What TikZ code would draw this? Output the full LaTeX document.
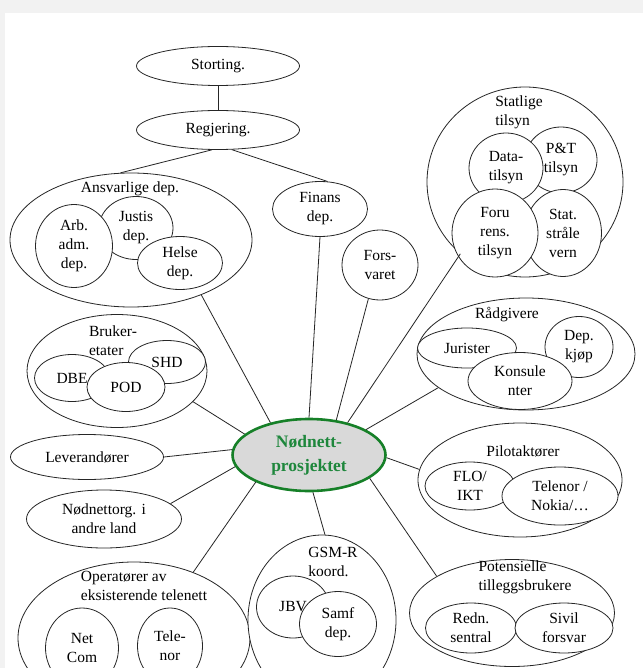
\documentclass[tikz,border=0pt]{standalone}
\usepackage{fontspec}
\setmainfont{Liberation Serif}
\usetikzlibrary{shapes.geometric}
\definecolor{hubgreen}{RGB}{22,128,40}
\definecolor{hubtext}{RGB}{30,135,60}

\begin{document}
\begin{tikzpicture}[x = 1pt, y = -1pt,
  font = \fontsize{15.5}{19}\selectfont,
  dims/.style 2 args = {minimum width = #1pt, minimum height = #2pt},
  bubble/.style = {ellipse, draw = black!85, line width = 0.8pt, fill = white, inner sep = 0pt, align = center},
  group/.style = {bubble},
  title/.style = {align = center, inner sep = 0pt},
  hub/.style = {ellipse, draw = hubgreen, line width = 2.6pt, fill = black!15, inner sep = 0pt, align = center,
    text = hubtext, font = \fontsize{17.5}{24}\selectfont\bfseries},
  link/.style = {draw = black!85, line width = 0.8pt}]
\useasboundingbox (0,0) rectangle (643,668);
\clip (0,0) rectangle (643,668);
\fill [black!5] (0,0) rectangle (643,668);
\fill [white] (5,13) rectangle (643,668);

\node [bubble, dims = {163}{39}] (storting) at (218,66) {Storting.};
\node [bubble, dims = {163}{39}] (regjering) at (218,130) {Regjering.};

\node [group, dims = {242}{134}] (ansvarlige) at (131,240) {};
\node [title] (ansvarligeT) at (130,189) {Ansvarlige dep.};
\node [bubble, dims = {74}{63}] (justis) at (136,228) {Justis\\dep.};
\node [bubble, dims = {77}{83}] (arbeid) at (74,246) {Arb.\\adm.\\dep.};
\node [bubble, dims = {85}{53}] (helse) at (180,263) {Helse\\dep.};

\node [bubble, dims = {95}{55}] (finans) at (320,209) {Finans\\dep.};
\node [bubble, dims = {76}{70}] (forsvaret) at (380,265) {Fors-\\varet};

\node [group, dims = {196}{190}] (statlige) at (525,182) {};
\node [title, align = left] (statligeT) at (519,112) {Statlige\\tilsyn};
\node [bubble, dims = {72}{66}] (pt) at (561,160) {P\&T\\tilsyn};
\node [bubble, dims = {74}{70}] (data) at (506,168) {Data-\\tilsyn};
\node [bubble, dims = {77}{87}] (straale) at (563,233) {Stat.\\stråle\\vern};
\node [bubble, dims = {86}{88}] (forurens) at (495,233) {Foru\\rens.\\tilsyn};

\node [group, dims = {218}{112}] (raadgivere) at (526,354) {};
\node [title] (raadgivereT) at (507,315) {Rådgivere};
\node [bubble, dims = {99}{40}] (jurister) at (467,348) {Jurister};
\node [bubble, dims = {68}{61}] (depkjop) at (579,347) {Dep.\\kjøp};
\node [bubble, dims = {104}{57}] (konsulenter) at (520,381) {Konsule\\nter};

\node [group, dims = {180}{113}] (bruker) at (117,371) {};
\node [title, align = left] (brukerT) at (113,341) {Bruker-\\etater};
\node [bubble, dims = {75}{47}] (dbe) at (72,378) {DBE};
\node [bubble, dims = {77}{43}] (shd) at (167,362) {SHD};
\node [bubble, dims = {78}{49}] (pod) at (126,387) {POD};

\node [bubble, dims = {153}{45}] (leverandorer) at (87,457) {Leverandører};
\node [bubble, dims = {155}{58}] (nodorg) at (104,519) {Nødnettorg. i\\andre land};

\node [group, dims = {232}{152}] (operatorer) at (134,638) {};
\node [title, align = left] (operatorerT) at (144,586) {Operatører av\\eksisterende telenett};
\node [bubble, dims = {73}{80}] (netcom) at (82,648) {Net\\Com};
\node [bubble, dims = {65}{76}] (telenor) at (170,646) {Tele-\\nor};

\node [group, dims = {148}{170}] (gsmr) at (322,620) {};
\node [title, align = left] (gsmrT) at (333,562) {GSM-R\\koord.};
\node [bubble, dims = {73}{62}] (jbv) at (293,607) {JBV};
\node [bubble, dims = {77}{65}] (samf) at (338,624) {Samf\\dep.};

\node [group, dims = {205}{107}] (potensielle) at (512,613) {};
\node [title, align = left] (potensielleT) at (525,577) {Potensielle\\tilleggsbrukere};
\node [bubble, dims = {91}{50}] (redning) at (471,628) {Redn.\\sentral};
\node [bubble, dims = {98}{50}] (sivil) at (564,628) {Sivil\\forsvar};

\node [group, dims = {204}{114}] (pilot) at (520,480) {};
\node [title] (pilotT) at (523,451) {Pilotaktører};
\node [bubble, dims = {90}{48}] (flo) at (470,486) {FLO/\\IKT};
\node [bubble, dims = {116}{58}] (nokia) at (560,496) {Telenor /\\Nokia/\ldots};

\node [hub, dims = {153}{72}] (nodnett) at (309,455) {Nødnett-\\prosjektet};

\draw [link] (storting) -- (regjering);
\draw [link] (regjering.-107) -- (ansvarlige.99);
\draw [link] (regjering.-55) -- (finans.75);
\draw [link] (ansvarlige.-38) -- (nodnett.140);
\draw [link] (finans.south) -- (nodnett.north);
\draw [link] (forsvaret.251) -- (nodnett.52);
\draw [link] (statlige.228) -- (nodnett.40);
\draw [link] (raadgivere.201) -- (nodnett.24);
\draw [link] (pilot.174) -- (nodnett.-2);
\draw [link] (potensielle.154) -- (nodnett.-21);
\draw [link] (gsmr.88) -- (nodnett.-84);
\draw [link] (operatorer.48) -- (nodnett.207);
\draw [link] (nodorg.13) -- (nodnett.189);
\draw [link] (leverandorer.east) -- (nodnett.176);
\draw [link] (bruker.-22) -- (nodnett.162);
\end{tikzpicture}
\end{document}
